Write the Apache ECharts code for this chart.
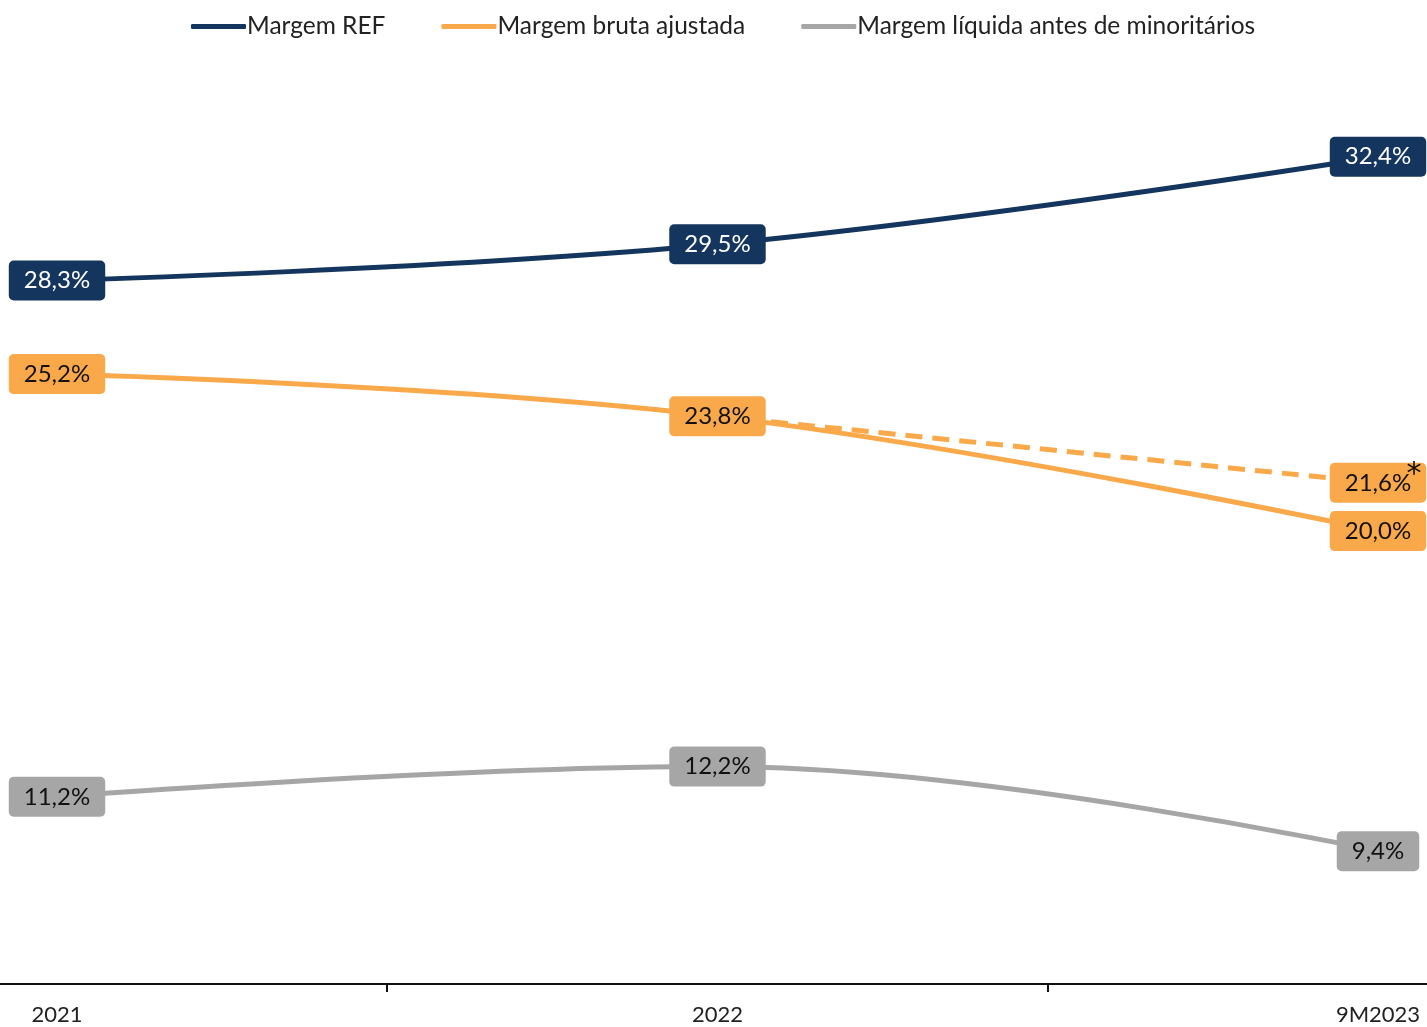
<!DOCTYPE html>
<html>
<head>
<meta charset="utf-8">
<script src="https://cdn.jsdelivr.net/npm/echarts@6/dist/echarts.min.js"></script>
<style>
  html, body { margin: 0; padding: 0; background: #fff; }
  #chart { width: 1427px; height: 1027px; }
</style>
</head>
<body>
<div id="chart"></div>
<script>
  var categories = ['2021', '2022', '9M2023'];
  var margemRef = [28.3, 29.5, 32.4];
  var margemBruta = [25.2, 23.8, 20.0];
  var margemBrutaAlt = [null, 23.8, 21.6];
  var margemLiquida = [11.2, 12.2, 9.4];
  // ticks sit between categories
  var tickPositions = [0.5, 1.5];

  var FONT = 'Lato, "Noto Sans", sans-serif';
  var NAVY = '#14365e', ORANGE = '#f9a84a', GRAY = '#a6a6a6';

  function fmt(v) {
    return v.toFixed(1).replace('.', ',') + '%';
  }

  // pair each value with its category index for the value x axis
  function pts(arr) {
    return arr.map(function (v, i) { return [i, v]; });
  }

  function boxLabel(bg, color) {
    return {
      show: true,
      position: 'inside',
      formatter: function (p) { return p.value[1] == null ? '' : fmt(p.value[1]); },
      backgroundColor: bg,
      color: color,
      fontFamily: FONT,
      fontSize: 24,
      lineHeight: 26,
      padding: [7, 15, 7, 15],
      borderRadius: 5
    };
  }

  var myEcharts = echarts.init(document.getElementById('chart'));
  var options = {
    animation: false,
    legend: {
      top: 9,
      left: 186,
      itemGap: 56,
      itemWidth: 55,
      itemHeight: 5,
      icon: 'roundRect',
      textStyle: { fontFamily: FONT, fontSize: 24.5, color: '#222', padding: [0, 0, 0, -4] },
      data: ['Margem REF', 'Margem bruta ajustada', 'Margem líquida antes de minoritários']
    },
    grid: { left: 0, right: 0, top: 48, bottom: 43, containLabel: false },
    xAxis: {
      type: 'value',
      min: -0.0863,
      max: 2.0742,
      splitLine: { show: false },
      axisLine: { lineStyle: { color: '#111', width: 2 } },
      axisTick: { show: true, length: 8, customValues: tickPositions, lineStyle: { color: '#111', width: 2 } },
      axisLabel: {
        customValues: [0, 1, 2],
        formatter: function (v) { return categories[Math.round(v)]; },
        fontFamily: FONT, fontSize: 22, color: '#222', margin: 20
      }
    },
    yAxis: {
      type: 'value',
      min: 5,
      max: 36,
      show: false,
      splitLine: { show: false }
    },
    series: [
      {
        name: 'Margem REF',
        type: 'line',
        smooth: 0.4,
        symbol: 'circle',
        symbolSize: 2,
        color: NAVY,
        lineStyle: { width: 5, color: NAVY },
        label: boxLabel(NAVY, '#fff'),
        data: pts(margemRef),
        z: 3
      },
      {
        name: 'Margem bruta ajustada',
        type: 'line',
        smooth: 0.4,
        symbol: 'circle',
        symbolSize: 2,
        color: ORANGE,
        lineStyle: { width: 5, color: ORANGE },
        label: boxLabel(ORANGE, '#111'),
        data: pts(margemBruta),
        z: 3
      },
      {
        name: 'Margem bruta ajustada *',
        type: 'line',
        smooth: 0.4,
        symbol: 'circle',
        symbolSize: 2,
        color: ORANGE,
        lineStyle: { width: 5, color: ORANGE, type: [17, 10] },
        label: Object.assign(boxLabel(ORANGE, '#111'), {
          formatter: function (p) { return p.dataIndex === 2 ? fmt(p.value[1]) : ''; }
        }),
        // footnote asterisk next to the 9M2023 alternative value
        markPoint: {
          symbol: 'circle',
          symbolSize: 0,
          silent: true,
          data: [{ coord: [2, margemBrutaAlt[2]] }],
          label: {
            show: true,
            formatter: '*',
            position: 'inside',
            offset: [36, -8],
            fontFamily: 'DejaVu Sans',
            fontSize: 30,
            color: '#111'
          }
        },
        data: pts(margemBrutaAlt),
        z: 2
      },
      {
        name: 'Margem líquida antes de minoritários',
        type: 'line',
        smooth: 0.4,
        symbol: 'circle',
        symbolSize: 2,
        color: GRAY,
        lineStyle: { width: 5, color: GRAY },
        label: boxLabel(GRAY, '#111'),
        data: pts(margemLiquida),
        z: 3
      }
    ]
  };
  myEcharts.setOption(options, true);
  window.addEventListener('resize', function () {
    myEcharts.resize();
  });
</script>
</body>
</html>
